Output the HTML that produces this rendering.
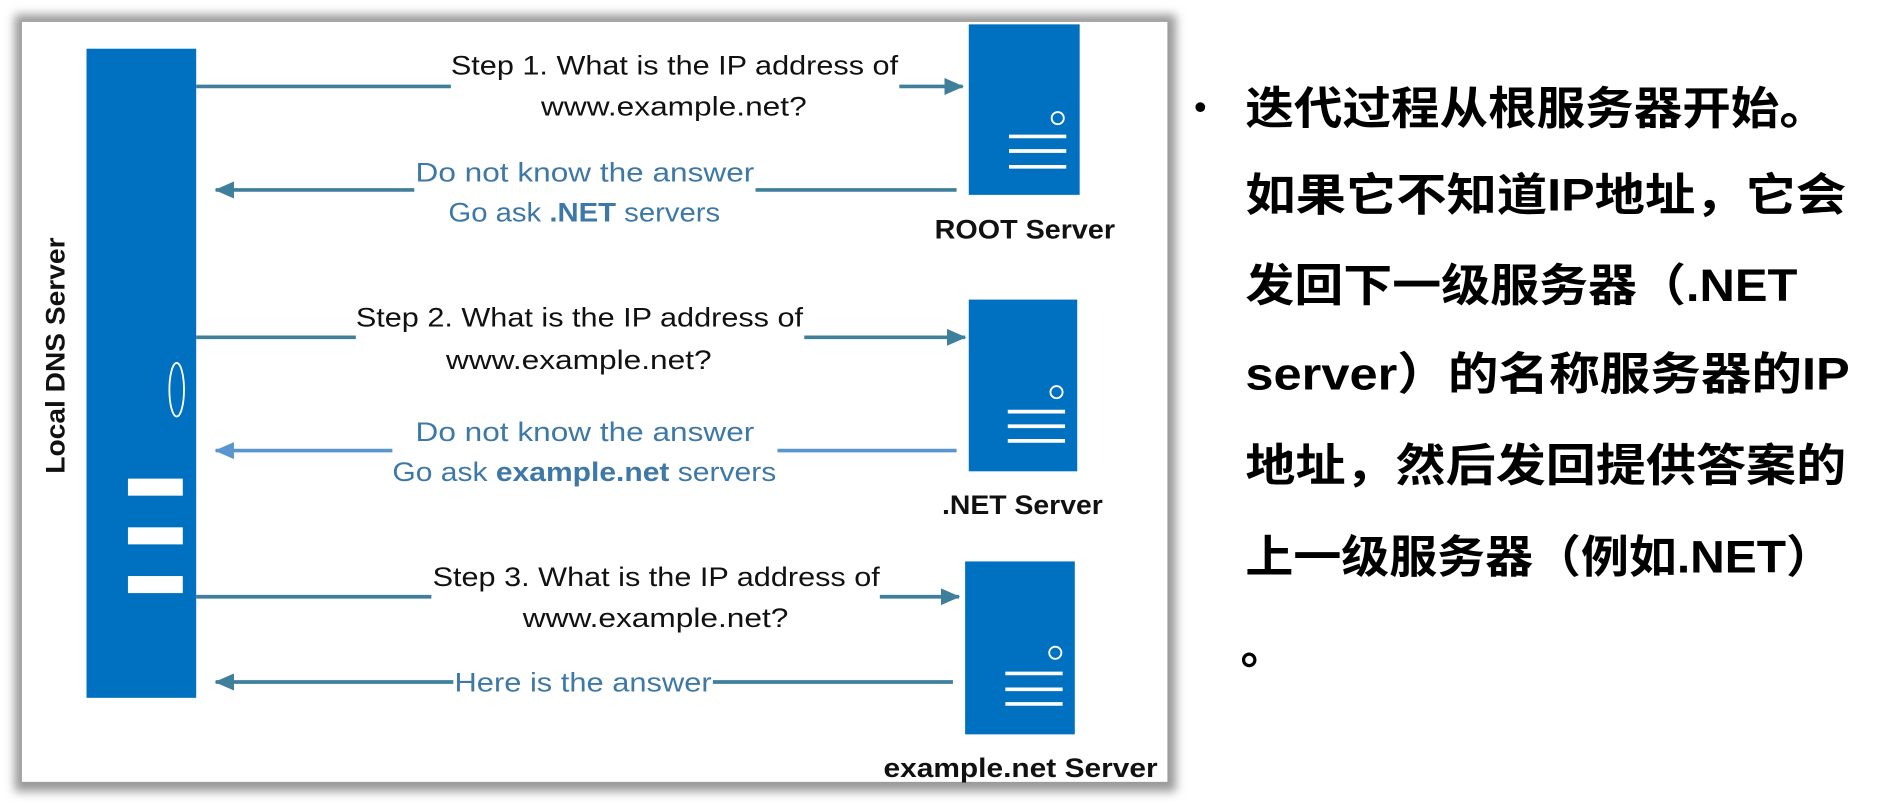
<!DOCTYPE html>
<html><head><meta charset="utf-8"><style>
html,body{margin:0;padding:0;background:#fff;width:1901px;height:805px;overflow:hidden}
svg{display:block}
.t{font-family:"Liberation Sans",sans-serif;font-size:22px;fill:#111}
.b{font-family:"Liberation Sans",sans-serif;font-size:22px;fill:#3e78a6}
.lb{font-family:"Liberation Sans",sans-serif;font-size:22px;font-weight:bold;fill:#111}
.cn{font-family:"Liberation Sans Narrow","Liberation Sans","Noto Sans CJK SC",sans-serif;font-size:37px;font-weight:600;fill:#000}
</style></head><body>
<svg width="1901" height="805" viewBox="0 0 1560 661" preserveAspectRatio="none" xmlns="http://www.w3.org/2000/svg">
<defs>
<filter id="sh" x="-5%" y="-5%" width="110%" height="110%"><feGaussianBlur stdDeviation="4"/></filter>
<marker id="ad2" markerWidth="16" markerHeight="14" refX="15" refY="7" orient="auto" markerUnits="userSpaceOnUse"><path d="M0,0 L16,7 L0,14 z" fill="#3f7f9c"/></marker>
<marker id="al" markerWidth="16" markerHeight="14" refX="15" refY="7" orient="auto" markerUnits="userSpaceOnUse"><path d="M0,0 L16,7 L0,14 z" fill="#5b95cf"/></marker>
</defs>
<rect x="12" y="12" width="953" height="638" fill="#999" filter="url(#sh)"/>
<rect x="18" y="18" width="940" height="624" fill="#fff"/>
<rect x="71" y="40" width="90" height="533" fill="#0070c0"/>
<ellipse cx="145" cy="320" rx="6" ry="22" fill="none" stroke="#fff" stroke-width="1.5"/>
<rect x="105" y="393" width="45" height="14" fill="#fff"/>
<rect x="105" y="433" width="45" height="14" fill="#fff"/>
<rect x="105" y="473" width="45" height="14" fill="#fff"/>
<text class="lb" transform="translate(53,292) rotate(-90)" x="-97" textLength="194" lengthAdjust="spacingAndGlyphs">Local DNS Server</text>
<g fill="#0070c0"><rect x="795" y="20" width="91" height="140"/><rect x="795" y="246" width="89" height="141"/><rect x="792" y="461" width="90" height="142"/></g>
<g fill="none" stroke="#fff" stroke-width="1.5"><circle cx="868" cy="97" r="5"/><circle cx="867" cy="322" r="5"/><circle cx="866" cy="536" r="5"/></g>
<g stroke="#fff" stroke-width="3"><path d="M828 112H875M828 124H875M828 137H875M827 338H874M827 350H874M827 362H874M825 553H872M825 566H872M825 578H872"/></g>
<text class="lb" x="767" y="196" textLength="148" lengthAdjust="spacingAndGlyphs">ROOT Server</text>
<text class="lb" x="773" y="422" textLength="132" lengthAdjust="spacingAndGlyphs">.NET Server</text>
<text class="lb" x="725" y="638" textLength="225" lengthAdjust="spacingAndGlyphs">example.net Server</text>
<g stroke="#3f7f9c" stroke-width="3" fill="none">
<path d="M161 71H370"/><path d="M738 71H790" marker-end="url(#ad2)"/>
<path d="M785 156H620"/><path d="M340 156H177" marker-end="url(#ad2)"/>
<path d="M161 277H292"/><path d="M660 277H792" marker-end="url(#ad2)"/>
<path d="M161 490H354"/><path d="M722 490H787" marker-end="url(#ad2)"/>
<path d="M782 560H585"/><path d="M372 560H177" marker-end="url(#ad2)"/>
</g>
<g stroke="#5b95cf" stroke-width="3" fill="none">
<path d="M785 370H638"/><path d="M322 370H177" marker-end="url(#al)"/>
</g>
<text class="t" x="370" y="61" textLength="367" lengthAdjust="spacingAndGlyphs">Step 1. What is the IP address of</text>
<text class="t" x="444" y="95" textLength="218" lengthAdjust="spacingAndGlyphs">www.example.net?</text>
<text class="b" x="341" y="149" textLength="278" lengthAdjust="spacingAndGlyphs">Do not know the answer</text>
<text class="b" x="368" y="182" textLength="223" lengthAdjust="spacingAndGlyphs">Go ask <tspan font-weight="bold">.NET</tspan> servers</text>
<text class="t" x="292" y="268" textLength="367" lengthAdjust="spacingAndGlyphs">Step 2. What is the IP address of</text>
<text class="t" x="366" y="303" textLength="218" lengthAdjust="spacingAndGlyphs">www.example.net?</text>
<text class="b" x="341" y="362" textLength="278" lengthAdjust="spacingAndGlyphs">Do not know the answer</text>
<text class="b" x="322" y="395" textLength="315" lengthAdjust="spacingAndGlyphs">Go ask <tspan font-weight="bold">example.net</tspan> servers</text>
<text class="t" x="355" y="481" textLength="367" lengthAdjust="spacingAndGlyphs">Step 3. What is the IP address of</text>
<text class="t" x="429" y="515" textLength="218" lengthAdjust="spacingAndGlyphs">www.example.net?</text>
<text class="b" x="373" y="568" textLength="211" lengthAdjust="spacingAndGlyphs">Here is the answer</text>
<circle cx="985" cy="88" r="4" fill="#000"/>
<text class="cn" x="1022" y="102" textLength="478" lengthAdjust="spacingAndGlyphs">迭代过程从根服务器开始。</text>
<text class="cn" x="1022" y="173" textLength="493" lengthAdjust="spacingAndGlyphs">如果它不知道IP地址，它会</text>
<text class="cn" x="1022" y="247" textLength="453" lengthAdjust="spacingAndGlyphs">发回下一级服务器（.NET</text>
<text class="cn" x="1022" y="320" textLength="496" lengthAdjust="spacingAndGlyphs">server）的名称服务器的IP</text>
<text class="cn" x="1022" y="395" textLength="493" lengthAdjust="spacingAndGlyphs">地址，然后发回提供答案的</text>
<text class="cn" x="1022" y="470" textLength="483" lengthAdjust="spacingAndGlyphs">上一级服务器（例如.NET）</text>
<text class="cn" x="1018" y="545">。</text>
</svg>
</body></html>
